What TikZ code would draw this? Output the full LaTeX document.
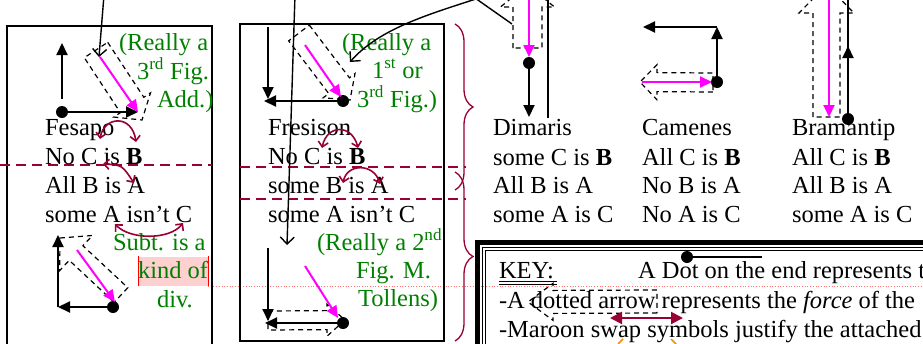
\documentclass[tikz,border=0pt]{standalone}
\usepackage{fontspec}
\setmainfont{Liberation Serif}
\usetikzlibrary{arrows.meta,calc,decorations.pathreplacing}
\definecolor{maroon}{RGB}{153,0,51}
\definecolor{dgreen}{RGB}{0,128,0}
\definecolor{mag}{RGB}{255,0,255}
\definecolor{pinkhl}{RGB}{255,208,208}
\definecolor{orng}{RGB}{255,140,0}
\newcommand\fatarrow[5]{%
  \coordinate (faneck) at ($(#2)!#5!(#1)$);
  \draw[fat] ($(#1)!#3!90:(#2)$) -- ($(faneck)!#3!90:(#2)$) -- ($(faneck)!#4!90:(#2)$) -- (#2)
    -- ($(faneck)!#4!-90:(#2)$) -- ($(faneck)!#3!-90:(#2)$) -- ($(#1)!#3!-90:(#2)$) -- cycle;}
\begin{document}
\begin{tikzpicture}[x=1pt,y=-1pt, font=\fontsize{24.5}{29}\selectfont,
  txt/.style={anchor=base west, inner sep=0pt, outer sep=0pt},
  gtxt/.style={txt, text=dgreen},
  blk/.style={line width=2pt, -{Triangle[length=12pt,width=11pt]}},
  magarr/.style={mag, line width=2pt, -{Triangle[length=12pt,width=11pt]}},
  dotn/.style={circle, fill=black, inner sep=0pt, minimum size=12pt},
  thinarr/.style={line width=1.4pt, -{Straight Barb[length=7pt,width=14pt]}},
  swap/.style={maroon, line width=1.6pt, {Straight Barb[length=5pt,width=10pt]}-{Straight Barb[length=5pt,width=10pt]}},
  fat/.style={dash pattern=on 5pt off 4pt, line width=1.2pt},
  sepline/.style={maroon, line width=1.2pt, dash pattern=on 10pt off 6pt},
  brc/.style={maroon, line width=1.3pt, decorate, decoration={brace, amplitude=18pt}},
  boxline/.style={line width=1.6pt}
]
\useasboundingbox (0,0) rectangle (923,343);
\clip (0,0) rectangle (923,343);
\fill[white] (0,0) rectangle (923,343);

% comment highlight
\fill[pinkhl] (138,257) rectangle (208,286);
\draw[red!55, line width=0.7pt, dotted] (208,286) -- (923,286);
\draw[red, line width=0.8pt] (138,256) -- (138,286);
\draw[red, line width=0.8pt] (208,256) -- (208,286);

% boxes
\draw[boxline] (7,26) rectangle (212,360);
\draw[boxline] (240,24) rectangle (444,341);

% separators
\draw[sepline] (0,165) -- (212,165);
\draw[sepline] (240,167) -- (466,167);
\draw[sepline] (240,199) -- (466,199);

% braces
\draw[brc] (455,24) -- (455,190);
\draw[brc] (455,172) -- (455,341);

% key box
\draw[line width=5pt] (477.5,242.5) rectangle (950,370);
\draw[line width=0.9pt] (482.5,247) rectangle (950,370);
\draw[line width=0.9pt] (485.5,250) rectangle (950,370);

% ---------- Fesapo ----------
\node[txt] (fes) at (45,135) {Fesapo};
\node[txt] (fes1) at (45,164) {No C is \textbf{B}};
\node[txt] (fes2) at (45,193) {All B is A};
\node[txt] (fes3) at (45,222) {some A isn’t C};
\node[gtxt] (g1a) at (119,50) {(Really a};
\node[gtxt] (g1b) at (137,79) {3\textsuperscript{rd} Fig.};
\node[gtxt] (g1c) at (157,107) {Add.)};
\node[gtxt] (g2a) at (113,250) {Subt. is a};
\node[gtxt] (g2b) at (138,278) {kind of};
\node[gtxt] (g2c) at (157,307) {div.};

\coordinate (f1t) at (96,50); \coordinate (f1h) at (142,120);
\fatarrow{f1t}{f1h}{14pt}{22pt}{18pt}
\node[dotn] (d1) at (62,112) {};
\coordinate (u1s) at (62,99); \coordinate (u1e) at (62,43);
\coordinate (h1e) at (138,112);
\draw[blk] (u1s) -- (u1e);
\draw[blk] (d1) -- (h1e);
\coordinate (m1s) at (100,57); \coordinate (m1e) at (138,112);
\draw[magarr] (m1s) -- (m1e);
\coordinate (t1s) at (104,-5); \coordinate (t1e) at (99,57);
\draw[thinarr] (t1s) -- (t1e);

\coordinate (f2t) at (121,295); \coordinate (f2h) at (60,238);
\fatarrow{f2t}{f2h}{10pt}{24pt}{22pt}
\node[dotn] (d2) at (113,307) {};
\coordinate (c2) at (58,307); \coordinate (u2e) at (58,235);
\draw[blk] (d2) -- (c2);
\draw[blk] (c2) -- (u2e);
\coordinate (m2s) at (77,250); \coordinate (m2e) at (115,302);
\draw[magarr] (m2s) -- (m2e);

\coordinate (s1a) at (100,139); \coordinate (s1b) at (136,142);
\draw[swap] (s1a) .. controls (104,116) and (132,114) .. (s1b);
\coordinate (s2a) at (103,164); \coordinate (s2b) at (134,183);
\draw[swap] (s2a) .. controls (122,165) .. (s2b);
\coordinate (s3a) at (115,224); \coordinate (s3b) at (183,223);
\draw[swap] (s3a) .. controls (130,240) and (170,240) .. (s3b);

% ---------- Fresison ----------
\node[txt] (fre) at (268,135) {Fresison};
\node[txt] (fre1) at (268,164) {No C is \textbf{B}};
\node[txt] (fre2) at (268,193) {some B is A};
\node[txt] (fre3) at (268,222) {some A isn’t C};
\node[gtxt] (g3a) at (342,50) {(Really a};
\node[gtxt] (g3b) at (372,78) {1\textsuperscript{st} or};
\node[gtxt] (g3c) at (357,107) {3\textsuperscript{rd} Fig.)};
\node[gtxt] (g4a) at (317,250) {(Really a 2\textsuperscript{nd}};
\node[gtxt] (g4b) at (356,278) {Fig. M.};
\node[gtxt] (g4c) at (358,306) {Tollens)};

\coordinate (f3t) at (299,33); \coordinate (f3h) at (350,100);
\fatarrow{f3t}{f3h}{13pt}{20pt}{18pt}
\node[dotn] (d3) at (343,101) {};
\coordinate (u3s) at (268,27); \coordinate (u3e) at (268,99);
\coordinate (h3e) at (264,101);
\draw[blk] (u3s) -- (u3e);
\draw[blk] (d3) -- (h3e);
\coordinate (m3s) at (305,45); \coordinate (m3e) at (341,97);
\draw[magarr] (m3s) -- (m3e);

\coordinate (f4t) at (268,320.5); \coordinate (f4h) at (345,320);
\fatarrow{f4t}{f4h}{9.5pt}{16pt}{18pt}
\node[dotn] (d4) at (343,323) {};
\coordinate (u4s) at (268,248); \coordinate (u4e) at (268,321);
\coordinate (h4e) at (265,323);
\draw[blk] (u4s) -- (u4e);
\draw[blk] (d4) -- (h4e);
\coordinate (m4s) at (305,266); \coordinate (m4e) at (338,318);
\draw[magarr] (m4s) -- (m4e);

\coordinate (t2s) at (295,-5); \coordinate (t2e) at (287,245);
\draw[thinarr] (t2s) -- (t2e);
\coordinate (t3s) at (482,-3); \coordinate (t3e) at (350,62);
\draw[thinarr] (t3s) .. controls (430,14) and (380,28) .. (t3e);

\coordinate (s4a) at (322,148); \coordinate (s4b) at (358,148);
\draw[swap] (s4a) .. controls (327,124) and (352,124) .. (s4b);
\coordinate (s5a) at (343,183); \coordinate (s5b) at (380,184);
\draw[swap] (s5a) .. controls (347,163) and (374,163) .. (s5b);

% ---------- Dimaris ----------
\node[txt] (dim) at (493,135) {Dimaris};
\node[txt] (dim1) at (493,165) {some C is \textbf{B}};
\node[txt] (dim2) at (493,193) {All B is A};
\node[txt] (dim3) at (493,222) {some A is C};
\coordinate (f5t) at (527.5,48); \coordinate (f5h) at (527.5,-15);
\fatarrow{f5t}{f5h}{14.5pt}{27pt}{22pt}
\coordinate (l1s) at (475,-2); \coordinate (l1e) at (512,24);
\draw[line width=1.4pt] (l1s) -- (l1e);
\coordinate (l2s) at (548,-5); \coordinate (l2e) at (548,118);
\draw[line width=1.4pt] (l2s) -- (l2e);
\coordinate (m5s) at (529,-5); \coordinate (m5e) at (529,57);
\draw[magarr] (m5s) -- (m5e);
\node[dotn] (d5) at (529,63) {};
\coordinate (v5e) at (529,117);
\draw[blk] (d5) -- (v5e);

% ---------- Camenes ----------
\node[txt] (cam) at (642,135) {Camenes};
\node[txt] (cam1) at (642,165) {All C is \textbf{B}};
\node[txt] (cam2) at (642,193) {No B is A};
\node[txt] (cam3) at (642,222) {No A is C};
\coordinate (f6t) at (713,82.5); \coordinate (f6h) at (640,82);
\fatarrow{f6t}{f6h}{9.5pt}{17.5pt}{17pt}
\node[dotn] (d6) at (717,82) {};
\coordinate (c6) at (717,27); \coordinate (h6e) at (643,27);
\draw[blk] (d6) -- (c6);
\draw[blk] (c6) -- (h6e);
\coordinate (m6s) at (642,82); \coordinate (m6e) at (712,82);
\draw[magarr] (m6s) -- (m6e);

% ---------- Bramantip ----------
\node[txt] (bra) at (792,135) {Bramantip};
\node[txt] (bra1) at (792,165) {All C is \textbf{B}};
\node[txt] (bra2) at (792,193) {All B is A};
\node[txt] (bra3) at (792,222) {some A is C};
\coordinate (f7t) at (826.5,117); \coordinate (f7h) at (826.5,-15);
\fatarrow{f7t}{f7h}{13.5pt}{27.5pt}{28pt}
\coordinate (m7s) at (829,-5); \coordinate (m7e) at (829,117);
\draw[magarr] (m7s) -- (m7e);
\node[dotn] (d7) at (848,119) {};
\coordinate (v7e) at (848,-5);
\draw[line width=2pt] (d7) -- (v7e);
\coordinate (a7s) at (848,70); \coordinate (a7e) at (848,46);
\draw[blk] (a7s) -- (a7e);

% ---------- KEY ----------
\node[txt] (key) at (499,278) {KEY:};
\draw[line width=0.8pt] (499,281) -- (557,281);
\draw[line width=0.8pt] (499,284) -- (557,284);
\node[txt] (k1) at (638,278) {A Dot on the end represents the};
\node[dotn] (kd) at (687,257) {};
\coordinate (kde) at (762,257);
\draw[line width=2pt] (kd) -- (kde);
\node[txt] (k2) at (499,308) {-A dotted arrow represents the \textit{force} of the};
\coordinate (f8t) at (657,301.5); \coordinate (f8h) at (528,302);
\fatarrow{f8t}{f8h}{11.5pt}{18.5pt}{25pt}
\node[txt] (k3) at (499,337) {-Maroon swap symbols justify the attached};
\coordinate (ksa) at (610,318); \coordinate (ksb) at (683,318);
\draw[maroon, line width=2pt, {Triangle[length=12pt,width=12pt]}-{Triangle[length=12pt,width=12pt]}] (ksa) -- (ksb);
\draw[orng, line width=1.5pt] (618,344) -- (623,339);
\draw[orng, line width=1.5pt] (676,344) -- (671,339);
\end{tikzpicture}
\end{document}
